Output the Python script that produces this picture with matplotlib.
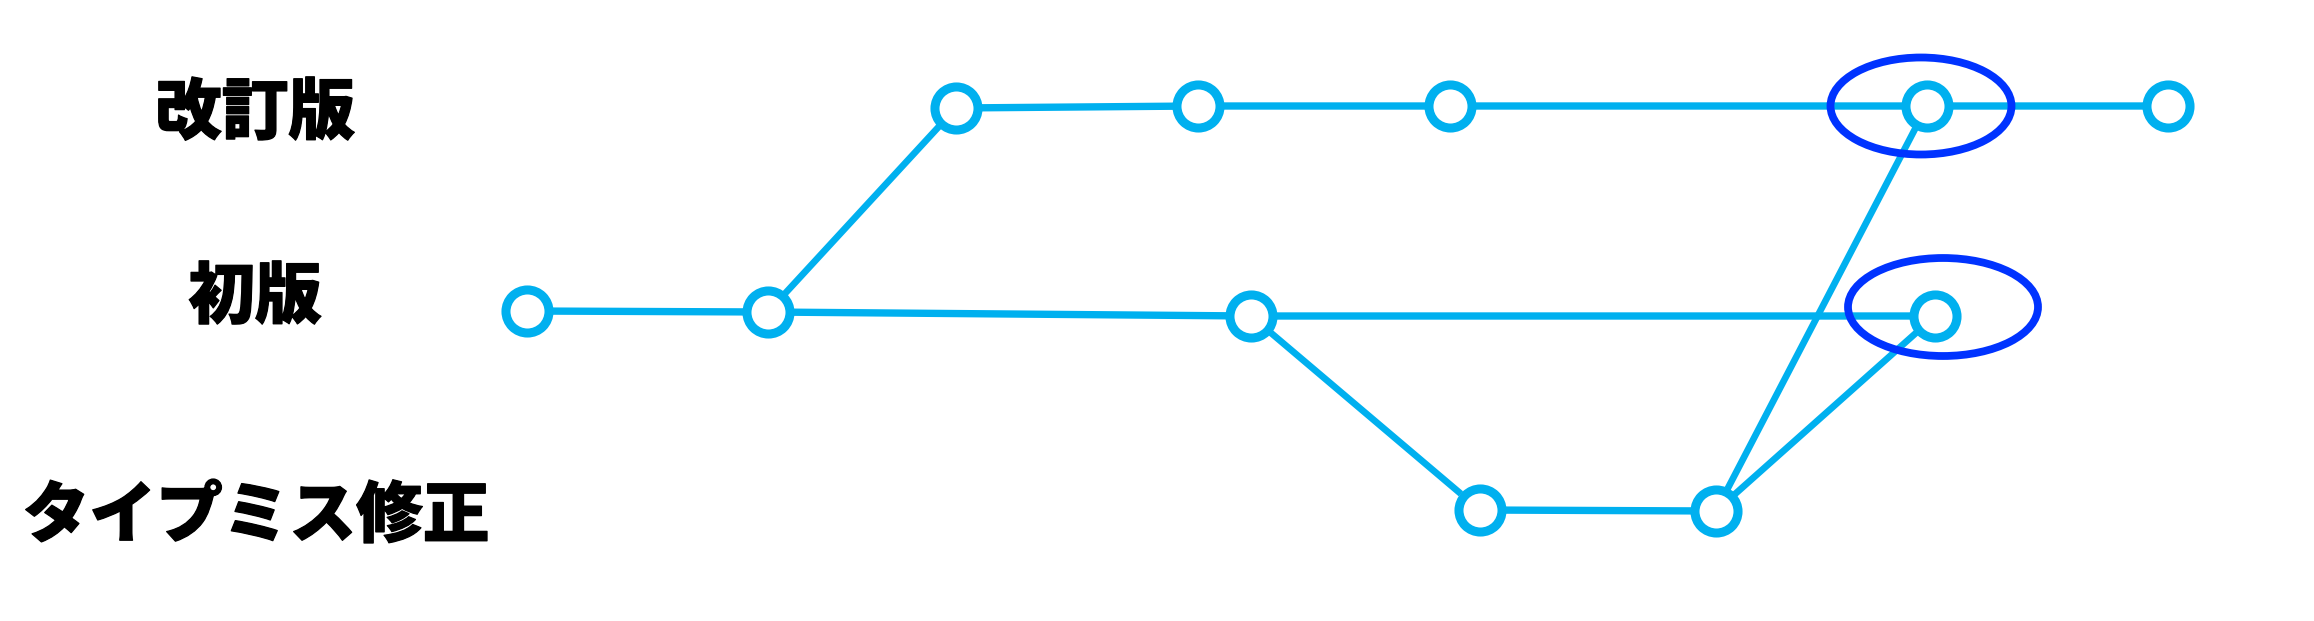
import matplotlib
matplotlib.use("Agg")
import matplotlib.pyplot as plt
import matplotlib.patheffects as pe
from matplotlib.patches import Ellipse
import numpy as np

# branch labels and where they sit
labels = ["改訂版", "初版", "タイプミス修正"]
label_x = [255, 255, 256]
label_y = [114, 298, 517]

# commit nodes (x, y) per branch
rev_x = [956, 1198, 1450, 1927, 2168]
rev_y = [108, 106, 106, 106, 106]
first_x = [527, 768, 1251, 1935]
first_y = [311, 312, 316, 316]
typo_x = [1480, 1716]
typo_y = [510, 511]

# links between branches: ((branch, idx), (branch, idx))
links = [
    (("first", 1), ("rev", 0)),
    (("first", 2), ("typo", 0)),
    (("typo", 1), ("rev", 3)),
    (("typo", 1), ("first", 3)),
]

# highlighted commits: branch, idx, width, height, dx, dy
marks = [("rev", 3, 181, 97, -6, 0), ("first", 3, 190, 98, 8, -9)]

LIGHT = "#00b0ef"
DARK = "#0033ff"

nodes = {
    "rev": list(zip(rev_x, rev_y)),
    "first": list(zip(first_x, first_y)),
    "typo": list(zip(typo_x, typo_y)),
}

fig = plt.figure(figsize=(23.14, 6.21), dpi=100)
ax = fig.add_axes([0, 0, 1, 1])
ax.set_xlim(0, 2314)
ax.set_ylim(621, 0)
ax.axis("off")

for name, pts in nodes.items():
    xs = [p[0] for p in pts]
    ys = [p[1] for p in pts]
    ax.plot(xs, ys, color=LIGHT, lw=5.3, solid_capstyle="butt", zorder=1)

trim = 25
for a, b in links:
    p = np.array(nodes[a[0]][a[1]], float)
    q = np.array(nodes[b[0]][b[1]], float)
    d = (q - p) / np.hypot(*(q - p))
    p2 = p + d * trim
    q2 = q - d * trim
    ax.plot([p2[0], q2[0]], [p2[1], q2[1]], color=LIGHT, lw=4.8,
            solid_capstyle="butt", zorder=1)

for name, pts in nodes.items():
    xs = [p[0] for p in pts]
    ys = [p[1] for p in pts]
    ax.plot(xs, ys, "o", ms=31, mfc="white", mec=LIGHT, mew=6.5,
            ls="none", zorder=3)

for name, i, w, h, dx, dy in marks:
    cx, cy = nodes[name][i]
    e = Ellipse((cx + dx, cy + dy), w, h, fill=False, ec=DARK, lw=5.6, zorder=4)
    ax.add_patch(e)

for t, x, y in zip(labels, label_x, label_y):
    ax.text(x, y, t, ha="center", va="center", fontsize=48,
            fontweight="heavy", family=["Noto Sans CJK JP", "DejaVu Sans"],
            color="black",
            path_effects=[pe.withStroke(linewidth=0.9, foreground="black")])

fig.savefig("out.png", dpi=100, facecolor="white")
